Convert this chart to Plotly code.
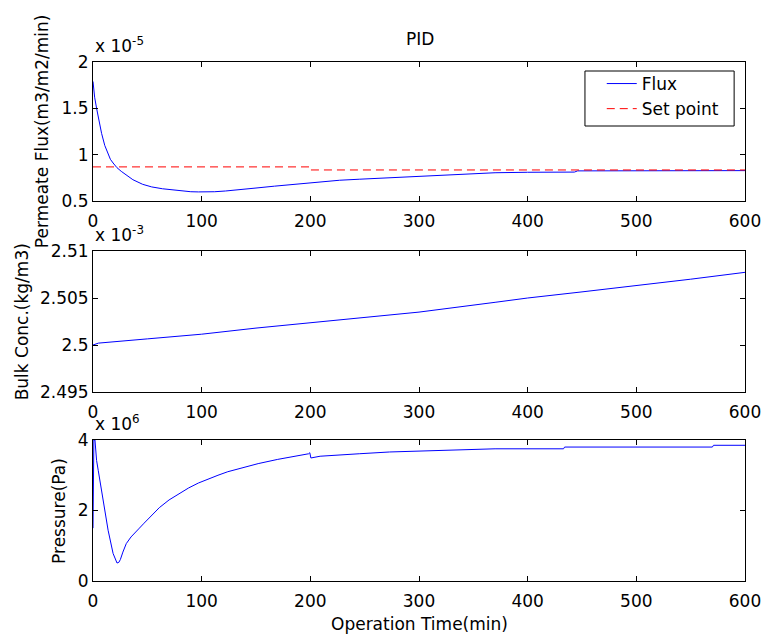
import plotly.graph_objects as go

# ---------------- data ----------------
# Permeate flux, units of 1e-5 m3/m2/min
flux_t = [0, 1.5, 3.3, 5.5, 7.9, 10.8, 13.9, 16, 18.5, 22, 26, 31, 36.7, 45.7, 54, 64, 72,
          80, 90, 97, 105, 112, 122, 135, 150, 167, 182, 197, 212, 227, 245, 262, 280, 300,
          320, 340, 355, 370, 400, 443, 446, 500, 560, 600]
flux_v = [1.79, 1.62, 1.50, 1.36, 1.23, 1.10, 1.00, 0.95, 0.91, 0.86, 0.82, 0.78, 0.73,
          0.68, 0.652, 0.632, 0.62, 0.61, 0.60, 0.598, 0.597, 0.60, 0.608, 0.62, 0.64, 0.66,
          0.678, 0.695, 0.71, 0.724, 0.735, 0.745, 0.757, 0.77, 0.78, 0.79, 0.80, 0.805,
          0.81, 0.812, 0.825, 0.826, 0.827, 0.828]
setp_t = [0, 200, 200, 600]
setp_v = [0.868, 0.868, 0.835, 0.835]

# Bulk concentration, units of 1e-3 kg/m3
conc_t = [0, 5, 50, 100, 150, 200, 250, 300, 370, 400, 450, 500, 550, 600]
conc_v = [2.5000, 2.5002, 2.50065, 2.50115, 2.50180, 2.50235, 2.50290, 2.50350,
          2.50454, 2.50500, 2.50565, 2.50631, 2.50700, 2.50773]

# Pressure, units of 1e6 Pa
pres_t = [0, 0.8, 1.8, 3.3, 4.8, 9.4, 13.9, 18.5, 20.5, 22.1, 23.8, 25.2, 27.5, 30.6, 35,
          39.7, 42.7, 47, 51.8, 61, 70, 79, 88, 97, 106, 115, 124, 134, 143, 152, 170, 188,
          198.5, 199.5, 200.5, 209, 227, 245, 273, 300, 330, 370, 433, 434, 570, 571, 600]
pres_v = [1.5, 4.0, 4.0, 3.42, 3.14, 2.29, 1.44, 0.78, 0.60, 0.51, 0.53, 0.61, 0.82, 1.06,
          1.25, 1.39, 1.50, 1.64, 1.79, 2.08, 2.30, 2.48, 2.64, 2.78, 2.90, 3.00, 3.10, 3.19,
          3.26, 3.33, 3.45, 3.54, 3.61, 3.64, 3.49, 3.54, 3.58, 3.61, 3.66, 3.69, 3.72,
          3.75, 3.75, 3.80, 3.80, 3.85, 3.85]

x_ticks = [0, 100, 200, 300, 400, 500, 600]
y1_ticks = [0.5, 1, 1.5, 2]
y2_ticks = [2.495, 2.5, 2.505, 2.51]
y2_labels = ["2.495", "2.5", "2.505", "2.51"]
y3_ticks = [0, 2, 4]

FONT = "DejaVu Sans"
FS = 17
BLUE = "#0000ff"
RED = "#ff0000"

fig = go.Figure()
fig.add_trace(go.Scatter(x=flux_t, y=flux_v, mode="lines", name="Flux",
                         line=dict(color=BLUE, width=1), xaxis="x", yaxis="y"))
fig.add_trace(go.Scatter(x=setp_t, y=setp_v, mode="lines", name="Set point",
                         line=dict(color=RED, width=1, dash="8px,5px"), xaxis="x", yaxis="y"))
fig.add_trace(go.Scatter(x=conc_t, y=conc_v, mode="lines", showlegend=False,
                         line=dict(color=BLUE, width=1), xaxis="x2", yaxis="y2"))
fig.add_trace(go.Scatter(x=pres_t, y=pres_v, mode="lines", showlegend=False,
                         line=dict(color=BLUE, width=1), xaxis="x3", yaxis="y3"))

H = 519.0
def dom(top_px, bot_px):
    return [(581 - bot_px) / H, (581 - top_px) / H]
def px_x(px):
    return (px - 93) / 660.0
def px_y(py):
    return (581 - py) / H

axis_common = dict(showline=True, linecolor="black", linewidth=1, mirror="ticks",
                   ticks="inside", ticklen=5, tickcolor="black", showgrid=False,
                   zeroline=False, tickfont=dict(family=FONT, size=FS, color="black"))
xaxis_common = dict(axis_common, ticklabelstandoff=5)

layout = dict(
    width=773, height=635,
    margin=dict(l=93, r=20, t=62, b=54),
    paper_bgcolor="white", plot_bgcolor="white",
    showlegend=True,
    legend=dict(x=px_x(608), y=px_y(66), xanchor="left", yanchor="top",
                borderwidth=0, bgcolor="rgba(0,0,0,0)",
                font=dict(family=FONT, size=FS, color="black")),
    shapes=[dict(type="rect", xref="paper", yref="paper", x0=px_x(591), x1=px_x(742),
                 y0=px_y(126), y1=px_y(71), line=dict(color="black", width=1),
                 fillcolor="white", layer="above")],
)
layout["xaxis"] = dict(xaxis_common, domain=[0, 1], anchor="y", range=[0, 600], tickvals=x_ticks)
layout["yaxis"] = dict(axis_common, domain=dom(62, 201), anchor="x", range=[0.5, 2], tickvals=y1_ticks)
layout["xaxis2"] = dict(xaxis_common, domain=[0, 1], anchor="y2", range=[0, 600], tickvals=x_ticks)
layout["yaxis2"] = dict(axis_common, domain=dom(251, 392), anchor="x2", range=[2.495, 2.51],
                        tickvals=y2_ticks, ticktext=y2_labels)
layout["xaxis3"] = dict(xaxis_common, domain=[0, 1], anchor="y3", range=[0, 600], tickvals=x_ticks)
layout["yaxis3"] = dict(axis_common, domain=dom(440, 581), anchor="x3", range=[0, 4], tickvals=y3_ticks)
fig.update_layout(**layout)

tf = dict(family=FONT, size=FS, color="black")
ann = []
# exponent labels
for yr, txt in [("y domain", "x 10<sup>-5</sup>"), ("y2 domain", "x 10<sup>-3</sup>"),
                ("y3 domain", "x 10<sup>6</sup>")]:
    ann.append(dict(text=txt, xref="paper", x=0, xanchor="left", yref=yr, y=1,
                    yanchor="bottom", yshift=4, showarrow=False, font=tf))
# title
ann.append(dict(text="PID", xref="paper", x=0.5008, xanchor="center", yref="y domain", y=1,
                yanchor="bottom", yshift=11, showarrow=False, font=tf))
# y axis titles
for yr, txt, px in [("y domain", "Permeate Flux(m3/m2/min)", 41),
                    ("y2 domain", "Bulk Conc.(kg/m3)", 21),
                    ("y3 domain", "Pressure(Pa)", 58)]:
    ann.append(dict(text=txt, xref="paper", x=px_x(px), xanchor="center",
                    yref=yr, y=0.5, yanchor="middle", textangle=-90, showarrow=False, font=tf))
# x axis title
ann.append(dict(text="Operation Time(min)", xref="paper", x=px_x(423), xanchor="center",
                yref="paper", y=0, yanchor="middle", yshift=-43, showarrow=False, font=tf))
fig.update_layout(annotations=ann)

fig.write_html("out.html")
